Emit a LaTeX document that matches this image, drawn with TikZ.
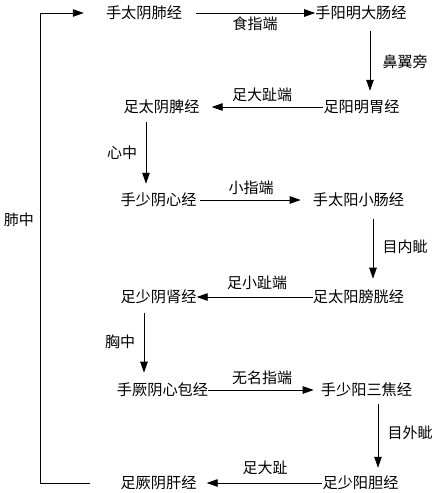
\documentclass[tikz,border=0pt]{standalone}
\usepackage{fontspec}
\setmainfont{Noto Sans CJK SC}
\usetikzlibrary{arrows.meta}
\begin{document}
\begin{tikzpicture}[x=1pt,y=-1pt,
  mer/.style={inner sep=0pt,font=\fontsize{15.2pt}{16pt}\selectfont},
  lab/.style={inner sep=0pt,font=\fontsize{15pt}{16pt}\selectfont},
  arr/.style={line width=0.9pt,-{Triangle[length=11pt,width=7.5pt]}},
  ln/.style={line width=0.9pt}]
\useasboundingbox (0,0) rectangle (439,493);
% meridians
\node[mer] (r1a) at (144,13) {手太阴肺经};
\node[mer] (r1b) at (361,13) {手阳明大肠经};
\node[mer] (r2b) at (361.5,107) {足阳明胃经};
\node[mer] (r2a) at (161.5,107) {足太阴脾经};
\node[mer] (r3a) at (158.5,200) {手少阴心经};
\node[mer] (r3b) at (358.5,200) {手太阳小肠经};
\node[mer] (r4b) at (358.5,297) {足太阳膀胱经};
\node[mer] (r4a) at (158.5,297) {足少阴肾经};
\node[mer] (r5a) at (162.5,390) {手厥阴心包经};
\node[mer] (r5b) at (366.5,390) {手少阳三焦经};
\node[mer] (r6b) at (360.5,483) {足少阳胆经};
\node[mer] (r6a) at (158.5,483) {足厥阴肝经};
% labels
\node[lab] (l1) at (255,24) {食指端};
\node[lab] (l2) at (405,62) {鼻翼旁};
\node[lab] (l3) at (262,95) {足大趾端};
\node[lab] (l4) at (122,153) {心中};
\node[lab] (l5) at (251,188) {小指端};
\node[lab] (l6) at (405,247) {目内眦};
\node[lab] (l7) at (257,283) {足小趾端};
\node[lab] (l8) at (120,342) {胸中};
\node[lab] (l9) at (262,378) {无名指端};
\node[lab] (l10) at (410,433) {目外眦};
\node[lab] (l11) at (265,468) {足大趾};
\node[lab] (l12) at (19,220) {肺中};
% horizontal arrows
\draw[arr] ([xshift=14pt]r1a.east) -- (r1b.west);
\draw[arr] (r2b.west) -- ([xshift=12pt]r2a.east);
\draw[arr] ([xshift=3pt]r3a.east) -- ([xshift=-12pt]r3b.west);
\draw[arr] (r4b.west) -- (r4a.east);
\draw[arr] (r5a.east) -- ([xshift=-7pt]r5b.west);
\draw[arr] (r6b.west) -- ([xshift=10pt]r6a.east);
% vertical arrows
\draw[arr] ([xshift=9pt,yshift=-11pt]r1b.south) -- ([xshift=8.5pt,yshift=9pt]r2b.north);
\draw[arr] ([xshift=-15.5pt,yshift=-8pt]r2a.south) -- ([xshift=-12.5pt,yshift=9pt]r3a.north);
\draw[arr] ([xshift=14.5pt,yshift=-12pt]r3b.south) -- ([xshift=14.5pt,yshift=11pt]r4b.north);
\draw[arr] ([xshift=-14.5pt,yshift=-9pt]r4a.south) -- ([xshift=-18.5pt,yshift=10pt]r5a.north);
\draw[arr] ([xshift=11.5pt,yshift=-7pt]r5b.south) -- ([xshift=17.5pt,yshift=8pt]r6b.north);
% loop back
\draw[arr] ([xshift=-30pt]r6a.west) -- ++(-50pt,0pt) |- ([xshift=-22pt]r1a.west);
\end{tikzpicture}
\end{document}
